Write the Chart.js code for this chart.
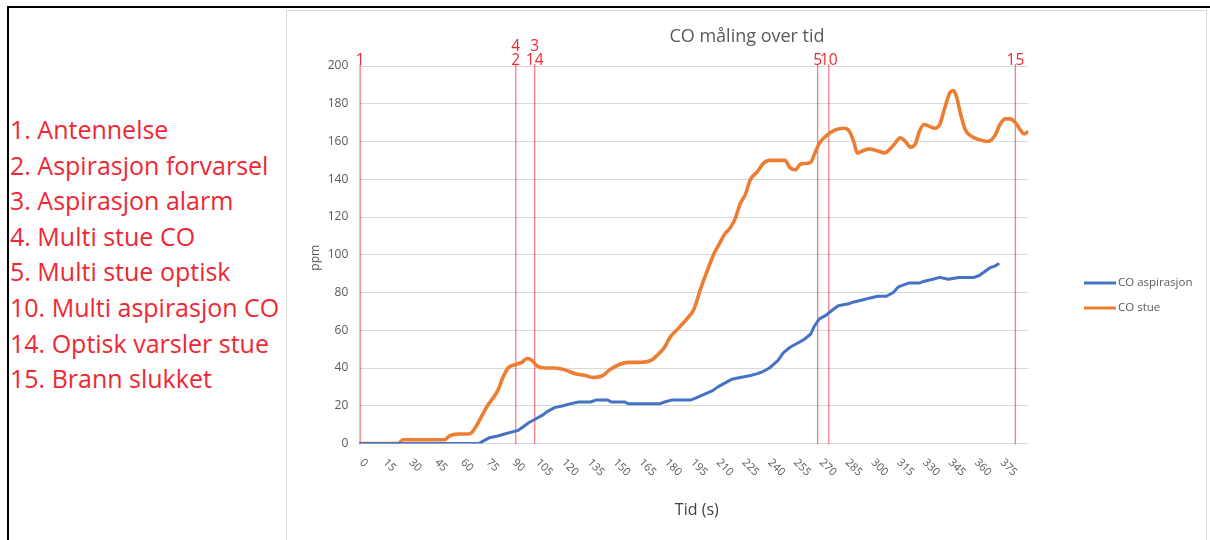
<!DOCTYPE html>
<html>
<head>
<meta charset="utf-8">
<script src="https://cdn.jsdelivr.net/npm/chart.js@4.4.1/dist/chart.umd.min.js"></script>
<style>
  html, body { margin: 0; padding: 0; background: #fff; width: 1210px; height: 540px; overflow: hidden; }
  #frame { position: absolute; left: 7px; top: 6px; width: 1220px; height: 560px; border-left: 2px solid #000; border-top: 2px solid #000; }
  #notes { position: absolute; left: 10px; top: 112px; font-family: "Open Sans", "Noto Sans", sans-serif; font-size: 25px; line-height: 35.6px; color: #ee2833; white-space: nowrap; }
  #box { position: absolute; left: 286px; top: 10px; width: 921px; height: 560px; border: 1px solid #d9d9d9; box-sizing: border-box; }
  #wrap { position: absolute; left: 287px; top: 11px; width: 920px; height: 529px; }
</style>
</head>
<body>
<div id="frame"></div>
<div id="notes">
  <div>1. Antennelse</div>
  <div>2. Aspirasjon forvarsel</div>
  <div>3. Aspirasjon alarm</div>
  <div>4. Multi stue CO</div>
  <div>5. Multi stue optisk</div>
  <div>10. Multi aspirasjon CO</div>
  <div>14. Optisk varsler stue</div>
  <div>15. Brann slukket</div>
</div>
<div id="box"></div>
<div id="wrap"><canvas id="c"></canvas></div>
<script>
// CO measured by the aspirating detector (time in s, ppm)
const aspTimes  = [0, 69, 71, 75, 80, 84, 88, 92, 95, 98, 102, 106, 109, 113, 118, 122, 127, 134, 137, 144, 146, 154, 156, 174, 177, 181, 192, 195, 200, 205, 208, 212, 216, 221, 227, 231, 234, 238, 243, 246, 250, 254, 258, 262, 264, 267, 271, 275, 278, 284, 287, 292, 296, 301, 306, 310, 313, 316, 319, 325, 328, 333, 337, 342, 348, 357, 360, 363, 366, 369, 371];
const aspValues = [0, 0, 1, 3, 4, 5, 6, 7, 9, 11, 13, 15, 17, 19, 20, 21, 22, 22, 23, 23, 22, 22, 21, 21, 22, 23, 23, 24, 26, 28, 30, 32, 34, 35, 36, 37, 38, 40, 44, 48, 51, 53, 55, 58, 62, 66, 68, 71, 73, 74, 75, 76, 77, 78, 78, 80, 83, 84, 85, 85, 86, 87, 88, 87, 88, 88, 89, 91, 93, 94, 95];

// CO measured in the living room (time in s, ppm)
const stueTimes  = [0, 22, 25, 49, 52, 57, 63, 65, 68, 74, 80, 83, 86, 91, 94, 97, 100, 103, 108, 113, 119, 125, 131, 135, 141, 145, 151, 156, 163, 169, 173, 177, 180, 185, 190, 194, 198, 202, 206, 209, 212, 215, 218, 221, 224, 227, 231, 234, 238, 247, 250, 253, 256, 262, 264, 267, 271, 276, 281, 284, 287, 289, 292, 296, 301, 305, 308, 311, 314, 317, 320, 323, 325, 328, 331, 334, 337, 340, 343, 345, 347, 349, 352, 355, 360, 365, 369, 372, 375, 378, 381, 384, 386, 388];
const stueValues = [0, 0, 2, 2, 4, 5, 5, 6, 10, 20, 28, 35, 40, 42, 43, 45, 44, 41, 40, 40, 39, 37, 36, 35, 36, 39, 42, 43, 43, 44, 47, 51, 56, 61, 66, 71, 82, 92, 101, 106, 111, 114, 119, 127, 132, 140, 144, 148, 150, 150, 146, 145, 148, 149, 153, 159, 163, 166, 167, 166, 160, 154, 155, 156, 155, 154, 156, 159, 162, 160, 157, 159, 165, 169, 168, 167, 169, 178, 186, 187, 183, 175, 166, 163, 161, 160, 163, 169, 172, 172, 170, 166, 164, 165];

const seriesNames = ['CO aspirasjon', 'CO stue'];
const xTickLabels = [0, 15, 30, 45, 60, 75, 90, 105, 120, 135, 150, 165, 180, 195, 210, 225, 240, 255, 270, 285, 300, 315, 330, 345, 360, 375];
const yTicks = { min: 0, max: 200, step: 20 };

// Event markers: time of each vertical line, number below and (optional) number stacked above
const eventTimes = [0, 90.5, 101.5, 266, 272.5, 381];
const eventLower = ['1', '2', '14', '5', '10', '15'];
const eventUpper = ['', '4', '3', '', '', ''];

const FONT = '"Open Sans", "Noto Sans", sans-serif';
const GREY = '#595959';
const RED = '#ee2833';

function pairs(ts, vs) { return ts.map((t, i) => ({ x: t, y: vs[i] })); }

const decorations = {
  id: 'decorations',
  beforeDatasetsDraw(chart) {
    const { ctx, chartArea, scales } = chart;
    const xs = scales.x;
    ctx.save();
    ctx.strokeStyle = 'rgba(238, 40, 51, 0.6)';
    ctx.lineWidth = 1.3;
    eventTimes.forEach(t => {
      const px = xs.getPixelForValue(t);
      ctx.beginPath();
      ctx.moveTo(px, chartArea.top - 2);
      ctx.lineTo(px, chartArea.bottom + 1);
      ctx.stroke();
    });
    ctx.restore();
  },
  afterDraw(chart) {
    const { ctx, chartArea, scales, width } = chart;
    const xs = scales.x;
    ctx.save();

    // chart title
    ctx.fillStyle = GREY;
    ctx.font = '18px ' + FONT;
    ctx.textAlign = 'center';
    ctx.textBaseline = 'alphabetic';
    ctx.fillText('CO måling over tid', width / 2, 30.5);

    // event numbers
    ctx.fillStyle = RED;
    ctx.font = '15.5px ' + FONT;
    eventTimes.forEach((t, i) => {
      const px = xs.getPixelForValue(t);
      ctx.fillText(eventLower[i], px, chartArea.top - 1.5);
      if (eventUpper[i]) ctx.fillText(eventUpper[i], px, chartArea.top - 15.5);
    });

    // x tick labels, rotated 45° clockwise
    ctx.fillStyle = GREY;
    ctx.font = '11px ' + FONT;
    ctx.textAlign = 'center';
    ctx.textBaseline = 'middle';
    xTickLabels.forEach(v => {
      const s = String(v);
      const px = xs.getPixelForValue(v) + 3.5;
      const w = ctx.measureText(s).width;
      const ext = (w + 8) * Math.SQRT1_2;
      const cy = chartArea.bottom + 14.5 + ext / 2;
      ctx.save();
      ctx.translate(px, cy);
      ctx.rotate(Math.PI / 4);
      ctx.fillText(s, 0, 0);
      ctx.restore();
    });

    // axis titles
    ctx.font = '12px ' + FONT;
    ctx.fillStyle = GREY;
    ctx.save();
    ctx.translate(29, (chartArea.top + chartArea.bottom) / 2 + 3);
    ctx.rotate(-Math.PI / 2);
    ctx.textBaseline = 'middle';
    ctx.fillText('ppm', 0, 0);
    ctx.restore();

    ctx.font = '16px ' + FONT;
    ctx.fillStyle = '#404040';
    ctx.textBaseline = 'alphabetic';
    ctx.fillText('Tid (s)', (chartArea.left + chartArea.right) / 2 + 3, 504);

    // legend
    ctx.font = '11.5px ' + FONT;
    ctx.textAlign = 'left';
    ctx.textBaseline = 'middle';
    chart.data.datasets.forEach((ds, i) => {
      const y = 272 + i * 25;
      ctx.strokeStyle = ds.borderColor;
      ctx.lineWidth = 3;
      ctx.beginPath();
      ctx.moveTo(797, y);
      ctx.lineTo(829, y);
      ctx.stroke();
      ctx.fillStyle = GREY;
      ctx.fillText(ds.label, 831, y);
    });
    ctx.restore();
  }
};

new Chart(document.getElementById('c'), {
  type: 'line',
  data: {
    datasets: [
      {
        label: seriesNames[0],
        data: pairs(aspTimes, aspValues),
        borderColor: '#4472c4',
        borderWidth: 3,
        pointRadius: 0,
        tension: 0,
        borderJoinStyle: 'round',
        borderCapStyle: 'round'
      },
      {
        label: seriesNames[1],
        data: pairs(stueTimes, stueValues),
        borderColor: '#ed7d31',
        borderWidth: 3.6,
        pointRadius: 0,
        cubicInterpolationMode: 'monotone',
        borderJoinStyle: 'round',
        borderCapStyle: 'round'
      }
    ]
  },
  options: {
    responsive: true,
    maintainAspectRatio: false,
    animation: false,
    layout: { padding: { left: 0, top: 55, right: 178.7, bottom: 96.5 } },
    plugins: { legend: { display: false }, title: { display: false }, tooltip: { enabled: false } },
    scales: {
      x: { type: 'linear', display: false, min: -0.5, max: 388.5 },
      y: {
        min: yTicks.min,
        max: yTicks.max,
        afterFit(scale) { scale.width = 72.3; },
        ticks: { stepSize: yTicks.step, padding: 11, color: GREY, font: { family: FONT, size: 12 } },
        grid: { color: '#d9d9d9', lineWidth: 1, drawTicks: false },
        border: { display: false }
      }
    }
  },
  plugins: [decorations]
});
</script>
</body>
</html>
